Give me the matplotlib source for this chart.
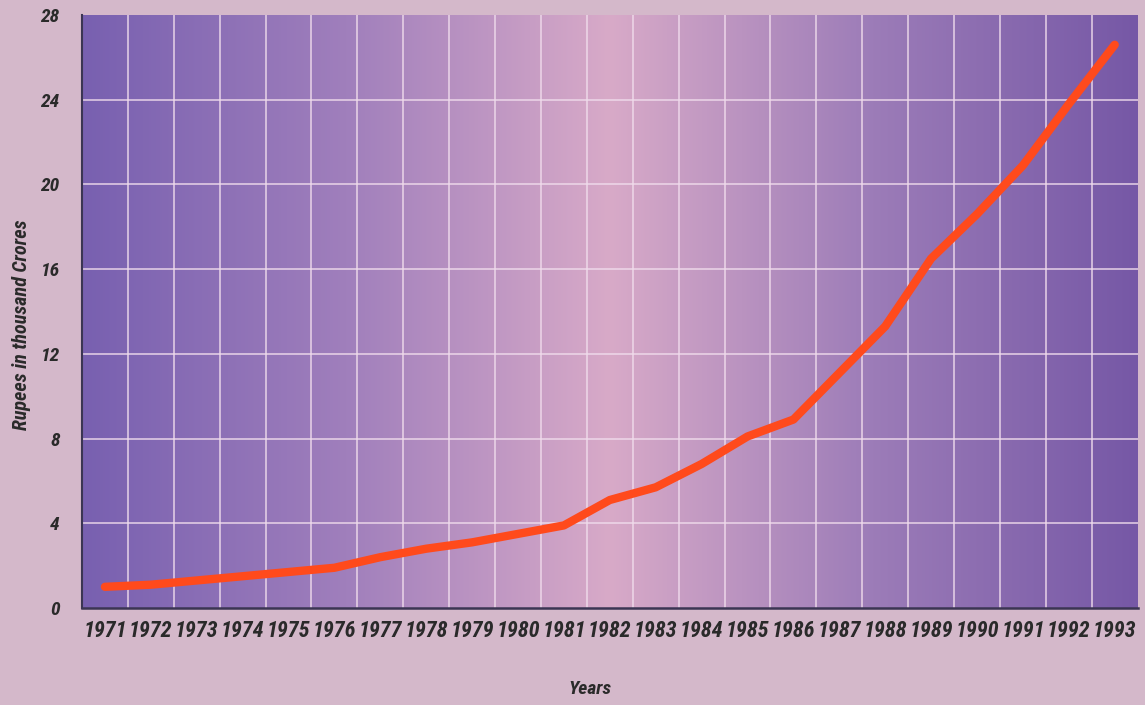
import numpy as np
import matplotlib
matplotlib.use("Agg")
import matplotlib.pyplot as plt
from matplotlib.colors import to_rgb
from matplotlib import font_manager as fm

years = list(range(1971, 1994))
values = [1.0, 1.1, 1.3, 1.5, 1.7, 1.9, 2.4, 2.8, 3.1, 3.5, 3.9, 5.1, 5.7,
          6.8, 8.1, 8.9, 11.1, 13.3, 16.5, 18.6, 20.9, 23.8, 26.6]
yticks = [0, 4, 8, 12, 16, 20, 24, 28]

# pick a condensed font if one is installed
names = {f.name for f in fm.fontManager.ttflist}
cond = None
for cand in ["Liberation Sans Narrow", "DejaVu Sans Condensed", "Roboto Condensed",
             "Open Sans Condensed"]:
    if cand in names:
        cond = cand
        break
condensed_stretch = any(("DejaVu Sans" == f.name and "ondensed" in f.fname)
                        for f in fm.fontManager.ttflist)
if cond:
    FONT = [cond, "DejaVu Sans"]
    STRETCH = "normal"
    XS = 16
else:
    FONT = ["DejaVu Sans"]
    STRETCH = "condensed" if condensed_stretch else "normal"
    XS = 14.5 if condensed_stretch else 12

fig = plt.figure(figsize=(11.45, 7.05), dpi=100)
fig.patch.set_facecolor("#d4b8ca")
ax = fig.add_axes([0.0716, 0.1376, 0.922, 0.841])

# background gradient (purple -> pink -> purple)
W, H = 400, 100
xs = np.linspace(0, 1, W)
stops = [0.0, 0.25, 0.5, 0.75, 1.0]
cols = [to_rgb(c) for c in ["#7860b0", "#a07fbc", "#d8aac8", "#9c7cb8", "#7658a6"]]
img = np.zeros((H, W, 3))
for k in range(3):
    row = np.interp(xs, stops, [c[k] for c in cols])
    img[:, :, k] = row[None, :]
ax.imshow(img, extent=(1970.5, 1993.5, 0, 28), aspect="auto", zorder=0,
          interpolation="bilinear")

ax.set_xlim(1970.5, 1993.5)
ax.set_ylim(0, 28)

for xv in np.arange(1971.5, 1993.5, 1.0):
    ax.axvline(xv, color="#f0dcec", lw=1.2, alpha=0.85, zorder=1)
for yv in yticks[1:-1]:
    ax.axhline(yv, color="#f0dcec", lw=1.2, alpha=0.85, zorder=1)

ax.plot(years, values, color="#ff4a1c", lw=6, solid_capstyle="round",
        solid_joinstyle="round", zorder=3)

ax.set_xticks(years)
ax.set_xticklabels([str(y) for y in years], family=FONT, fontsize=XS,
                   fontstyle="italic", fontweight="bold", color="#2a2a2a",
                   fontstretch=STRETCH)
ax.set_yticks(yticks)
ax.set_yticklabels([str(v) for v in yticks], family=FONT, fontsize=14,
                   fontstyle="italic", fontweight="bold", color="#2a2a2a",
                   fontstretch=STRETCH)
ax.tick_params(length=0, pad=9)
ax.tick_params(axis="y", pad=16)

for s in ["top", "right"]:
    ax.spines[s].set_visible(False)
ax.spines["left"].set_color("#3b3553")
ax.spines["bottom"].set_color("#3b3553")
ax.spines["left"].set_linewidth(1.5)
ax.spines["bottom"].set_linewidth(1.8)

fig.text(0.019, 0.54, "Rupees in thousand Crores", rotation=90, ha="center",
         va="center", family=FONT, fontsize=14.5, fontstyle="italic",
         fontweight="bold", color="#2a2a2a", fontstretch=STRETCH)
fig.text(0.515, 0.022, "Years", ha="center", va="center", family=FONT,
         fontsize=14, fontstyle="italic", fontweight="bold", color="#2a2a2a",
         fontstretch=STRETCH)

fig.savefig("out.png", dpi=100, facecolor=fig.get_facecolor())
